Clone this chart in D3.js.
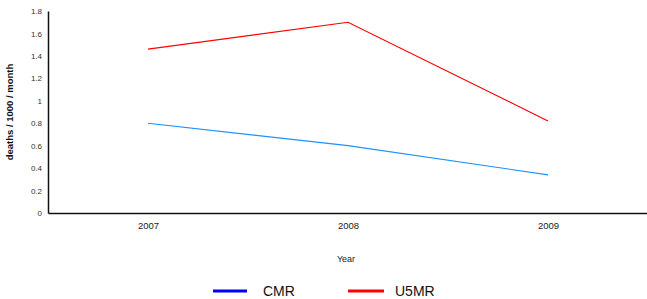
<!DOCTYPE html>
<html><head><meta charset="utf-8">
<script src="https://cdn.jsdelivr.net/npm/d3@7/dist/d3.min.js"></script>
<style>body{margin:0;background:#fff;}svg{display:block;font-family:"Liberation Sans",Arial,sans-serif;}</style>
</head><body>
<svg id="c" width="647" height="299"></svg>
<script>
const years = ["2007","2008","2009"];
const cmr = [0.80, 0.60, 0.34];
const u5mr = [1.46, 1.70, 0.82];
const yTicks = [0,0.2,0.4,0.6,0.8,1,1.2,1.4,1.6,1.8];
const seriesNames = ["CMR","U5MR"];
const lineColors = ["#1e90ff","#ff0000"];
const legendColors = ["#0000ff","#ff0000"];

(function(){
const svg = d3.select("#c");
const mLeft = 48, mRight = 648, mTop = 11, mBottom = 213;
const x = d3.scalePoint().domain(years).range([mLeft, mRight]).padding(0.5);
const y = d3.scaleLinear().domain([0,1.8]).range([mBottom, mTop]);

const ya = svg.append("g").attr("transform",`translate(${mLeft},0)`)
  .call(d3.axisLeft(y).tickValues(yTicks).tickSize(0).tickPadding(6).tickFormat(d=>d3.format("~g")(d)));
ya.select(".domain").attr("stroke","#111").attr("stroke-width",1.5);
ya.selectAll("text").attr("font-size",8).attr("fill","#333").attr("font-family","Liberation Sans, Arial, sans-serif");

const xa = svg.append("g").attr("transform",`translate(0,${mBottom})`)
  .call(d3.axisBottom(x).tickSize(0).tickPadding(9));
xa.select(".domain").attr("stroke","#111").attr("stroke-width",1.5);
xa.selectAll("text").attr("font-size",9.5).attr("fill","#222").attr("font-family","Liberation Sans, Arial, sans-serif");

const line = d3.line().x((d,i)=>x(years[i])).y(d=>y(d));
[cmr,u5mr].forEach((s,k)=>{
  svg.append("path").datum(s).attr("d",line).attr("fill","none")
    .attr("stroke",lineColors[k]).attr("stroke-width",1.1);
});

svg.append("text").attr("transform","translate(13,112) rotate(-90)")
  .attr("text-anchor","middle").attr("font-size",9.5).attr("font-weight","bold").attr("fill","#111")
  .text("deaths / 1000 / month");
svg.append("text").attr("x",346).attr("y",262).attr("text-anchor","middle")
  .attr("font-size",9).attr("fill","#222").text("Year");

const lg = [{x1:213,x2:247,tx:263},{x1:348,x2:384,tx:395}];
seriesNames.forEach((n,k)=>{
  svg.append("line").attr("x1",lg[k].x1).attr("x2",lg[k].x2).attr("y1",291).attr("y2",291)
    .attr("stroke",legendColors[k]).attr("stroke-width",3);
  svg.append("text").attr("x",lg[k].tx).attr("y",296).attr("font-size",14).attr("fill","#111").text(n);
});
})();
</script>
</body></html>
